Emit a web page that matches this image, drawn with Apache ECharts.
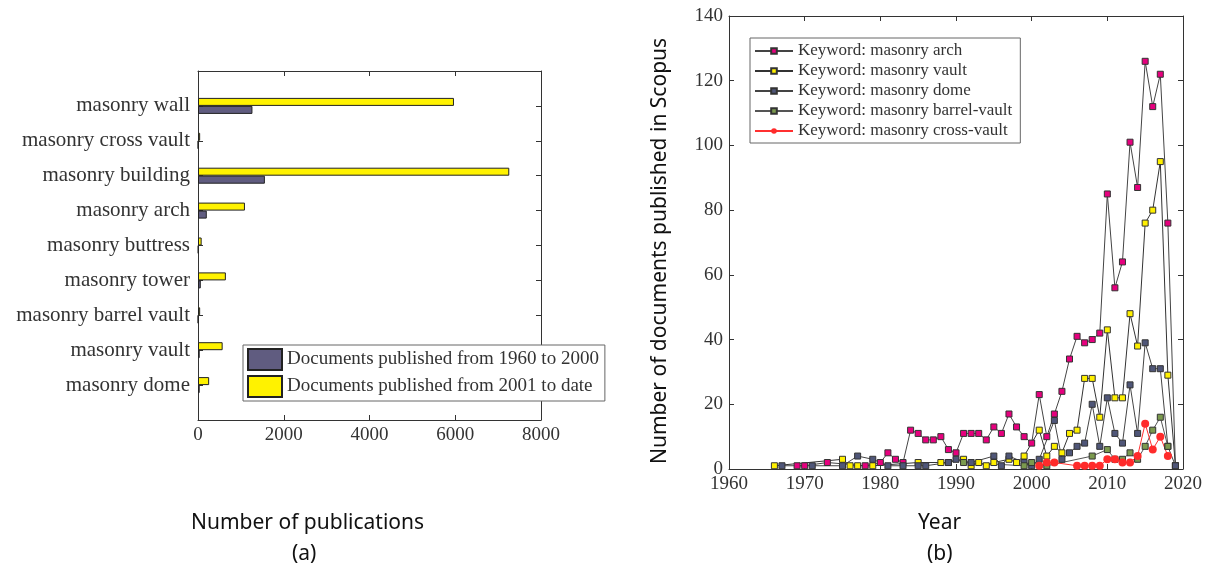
<!DOCTYPE html>
<html>
<head>
<meta charset="utf-8">
<script src="https://cdn.jsdelivr.net/npm/echarts@6/dist/echarts.min.js"></script>
<style>
  html, body { margin: 0; padding: 0; background: #fff; }
  #main { width: 1208px; height: 572px; }
</style>
</head>
<body>
<div id="main"></div>
<script>
var myChart = echarts.init(document.getElementById('main'));

// (a) 条形图数据，从下往上
var barCategories = ['masonry dome', 'masonry vault', 'masonry barrel vault', 'masonry tower',
  'masonry buttress', 'masonry arch', 'masonry building', 'masonry cross vault', 'masonry wall'];
var docs1960to2000 = [40, 40, 5, 65, 10, 205, 1560, 5, 1270];
var docs2001toDate = [260, 575, 50, 650, 85, 1095, 7260, 50, 5970];
var barTicks = [0, 8000, 2000];

// (b) 折线图数据
var archYears = [1969, 1970, 1973, 1978, 1980, 1981, 1982, 1983, 1984, 1985, 1986, 1987, 1988, 1989, 1990,
  1991, 1992, 1993, 1994, 1995, 1996, 1997, 1998, 1999, 2000, 2001, 2002, 2003, 2004, 2005, 2006, 2007,
  2008, 2009, 2010, 2011, 2012, 2013, 2014, 2015, 2016, 2017, 2018, 2019];
var arch = [1, 1, 2, 1, 2, 5, 3, 2, 12, 11, 9, 9, 10, 6, 5,
  11, 11, 11, 9, 13, 11, 17, 13, 10, 8, 23, 10, 17, 24, 34, 41, 39,
  40, 42, 85, 56, 64, 101, 87, 126, 112, 122, 76, 1];

var vaultYears = [1966, 1975, 1976, 1977, 1979, 1985, 1988, 1989, 1991, 1992, 1993, 1994, 1995, 1997, 1998,
  1999, 2001, 2002, 2003, 2004, 2005, 2006, 2007, 2008, 2009, 2010, 2011, 2012, 2013, 2014, 2015, 2016,
  2017, 2018, 2019];
var vault = [1, 3, 1, 1, 1, 2, 2, 2, 3, 1, 2, 1, 2, 3, 2,
  4, 12, 4, 7, 5, 11, 12, 28, 28, 16, 43, 22, 22, 48, 38, 76, 80,
  95, 29, 1];

var domeYears = [1967, 1971, 1975, 1977, 1979, 1981, 1983, 1985, 1986, 1989, 1990, 1992, 1995, 1996, 1997,
  1999, 2000, 2001, 2003, 2004, 2005, 2006, 2007, 2008, 2009, 2010, 2011, 2012, 2013, 2014, 2015, 2016,
  2017, 2018, 2019];
var dome = [1, 1, 1, 4, 3, 1, 1, 1, 1, 2, 3, 2, 4, 1, 4,
  2, 1, 3, 15, 3, 5, 7, 8, 20, 7, 22, 11, 8, 26, 11, 39, 31,
  31, 7, 1];

var barrelYears = [1991, 1999, 2000, 2002, 2008, 2010, 2011, 2012, 2013, 2014, 2015, 2016, 2017, 2018];
var barrel = [2, 1, 2, 1, 4, 6, 3, 3, 5, 3, 7, 12, 16, 7];

var crossYears = [2001, 2002, 2003, 2006, 2007, 2008, 2009, 2010, 2011, 2012, 2013, 2014, 2015, 2016, 2017, 2018];
var cross = [1, 2, 2, 1, 1, 1, 1, 3, 3, 2, 2, 4, 14, 6, 10, 4];

var yearTicks = [1960, 2020, 10];
var countTicks = [0, 140, 20];

function pairs(xs, ys) {
  return xs.map(function (x, i) { return [x, ys[i]]; });
}
// 上下各补一个空类目，模仿 MATLAB 的 ylim [0 10]
var paddedCats = [''].concat(barCategories, ['']);
function pad(arr) { return [null].concat(arr, [null]); }

var serif = 'Liberation Serif';
var axisColor = '#333';

function valueAxis(grid, pos, t, showLabel) {
  return {
    type: 'value', gridIndex: grid, position: pos,
    min: t[0], max: t[1], interval: t[2],
    axisLine: { show: true, onZero: false, lineStyle: { color: axisColor, width: 1 } },
    axisTick: { show: true, inside: true, length: 5, lineStyle: { color: axisColor } },
    axisLabel: showLabel ? {
      margin: 6, fontFamily: serif, fontSize: 19, color: '#333',
      formatter: function (v) { return String(v); }
    } : { show: false },
    splitLine: { show: false }
  };
}
function catAxis(pos, showLabel) {
  return {
    type: 'category', gridIndex: 0, position: pos, data: paddedCats, boundaryGap: false,
    axisLine: { show: true, onZero: false, lineStyle: { color: axisColor, width: 1 } },
    axisTick: { show: true, inside: true, length: 5, interval: 0, lineStyle: { color: axisColor } },
    axisLabel: showLabel ? { margin: 8, interval: 0, fontFamily: serif, fontSize: 21, color: '#333' } : { show: false },
    splitLine: { show: false }
  };
}

function lineSeries(name, data, color, symbol, size, lineColor) {
  return {
    name: name, type: 'line', xAxisIndex: 2, yAxisIndex: 2,
    data: data, symbol: symbol, symbolSize: size,
    lineStyle: { color: lineColor, width: 1 },
    itemStyle: symbol === 'circle'
      ? { color: color, borderWidth: 0 }
      : { color: color, borderColor: '#333', borderWidth: 1 }
  };
}

var option = {
  animation: false,
  grid: [
    { left: 198, top: 71, width: 343, height: 349 },
    { left: 729, top: 16, width: 454, height: 453 }
  ],
  xAxis: [
    valueAxis(0, 'bottom', barTicks, true),
    valueAxis(0, 'top', barTicks, false),
    valueAxis(1, 'bottom', yearTicks, true),
    valueAxis(1, 'top', yearTicks, false)
  ],
  yAxis: [
    catAxis('left', true),
    catAxis('right', false),
    valueAxis(1, 'left', countTicks, true),
    valueAxis(1, 'right', countTicks, false)
  ],
  legend: [{
    data: ['Documents published from 1960 to 2000', 'Documents published from 2001 to date'],
    orient: 'vertical', left: 243, top: 345, icon: 'rect',
    padding: [3, 6, 3, 4], itemGap: 4, itemWidth: 34, itemHeight: 21,
    borderColor: '#666', borderWidth: 1, backgroundColor: '#fff',
    textStyle: { fontFamily: serif, fontSize: 19, color: '#333' }
  }, {
    data: ['Keyword: masonry arch', 'Keyword: masonry vault', 'Keyword: masonry dome',
      'Keyword: masonry barrel-vault', 'Keyword: masonry cross-vault'],
    orient: 'vertical', left: 750, top: 38,
    padding: [4, 8, 3, 4], itemGap: 2, itemWidth: 38, itemHeight: 7,
    borderColor: '#666', borderWidth: 1, backgroundColor: '#fff',
    textStyle: { fontFamily: serif, fontSize: 17, color: '#333', lineHeight: 18 }
  }],
  series: [
    {
      name: 'Documents published from 2001 to date', type: 'bar',
      xAxisIndex: 0, yAxisIndex: 0, data: pad(docs2001toDate),
      barWidth: 8, barGap: '0%',
      itemStyle: { color: '#fff200', borderColor: '#222', borderWidth: 1 }
    },
    {
      name: 'Documents published from 1960 to 2000', type: 'bar',
      xAxisIndex: 0, yAxisIndex: 0, data: pad(docs1960to2000),
      barWidth: 8, barGap: '0%',
      itemStyle: { color: '#605c80', borderColor: '#222', borderWidth: 1 }
    },
    lineSeries('Keyword: masonry arch', pairs(archYears, arch), '#e6007e', 'rect', 6, '#444'),
    lineSeries('Keyword: masonry vault', pairs(vaultYears, vault), '#fff000', 'rect', 6, '#333'),
    lineSeries('Keyword: masonry dome', pairs(domeYears, dome), '#4f5678', 'rect', 6, '#444'),
    lineSeries('Keyword: masonry barrel-vault', pairs(barrelYears, barrel), '#7b9a4e', 'rect', 6, '#555'),
    lineSeries('Keyword: masonry cross-vault', pairs(crossYears, cross), '#ff2b2b', 'circle', 8, '#ff3030')
  ],
  graphic: [
    { type: 'text', left: 191, top: 513, style: { text: 'Number of publications', font: '21px "Noto Sans"', fill: '#111' } },
    { type: 'text', left: 292, top: 544, style: { text: '(a)', font: '21px "Noto Sans"', fill: '#111' } },
    { type: 'text', left: 918, top: 513, style: { text: 'Year', font: '21px "Noto Sans"', fill: '#111' } },
    { type: 'text', left: 927, top: 544, style: { text: '(b)', font: '21px "Noto Sans"', fill: '#111' } },
    { type: 'text', x: 650, y: 464, rotation: Math.PI / 2,
      style: { text: 'Number of documents published in Scopus', font: '21px "Noto Sans"', fill: '#111' } }
  ]
};

myChart.setOption(option);
</script>
</body>
</html>
